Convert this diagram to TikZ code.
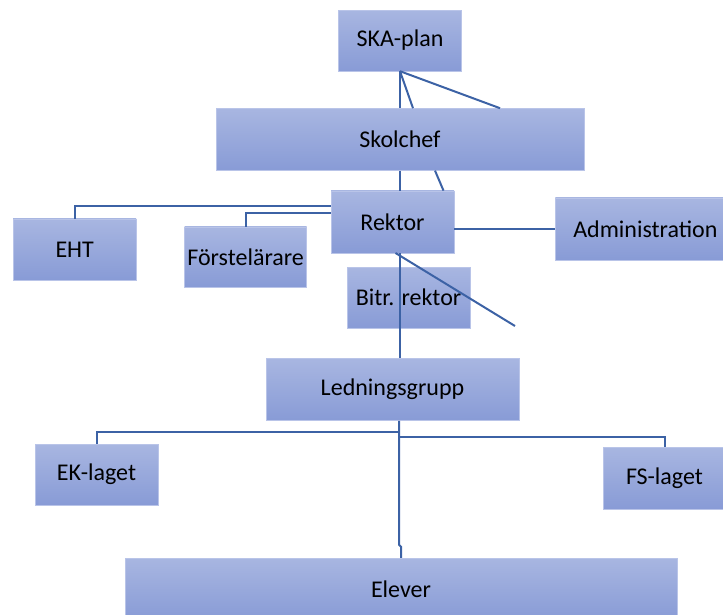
\documentclass[tikz,border=0pt]{standalone}
\usepackage{fontspec}
\setmainfont{Carlito}
\usetikzlibrary{positioning, calc}
\definecolor{boxtop}{RGB}{168,182,225}
\definecolor{boxbottom}{RGB}{136,155,214}
\definecolor{boxedge}{RGB}{185,196,232}
\definecolor{linkblue}{RGB}{60,98,165}

\begin{document}
\begin{tikzpicture}[x=1pt, y=-1pt, node distance=20pt]
  % Styles
  \tikzset{orgbox/.style={rectangle, top color=boxtop, bottom color=boxbottom, draw=boxedge, thin,
      text=black, inner sep=0pt, minimum width=123pt, minimum height=61pt,
      font=\fontsize{24}{28}\selectfont}}
  \tikzset{link/.style={draw=linkblue, line width=2pt}}
  \tikzset{mainlink/.style={draw=linkblue, line width=2.6pt}}

  \useasboundingbox (0,0) rectangle (723,614);

  % --- Nodes ---
  \node[orgbox] (skaplan) at (400,40.5) {SKA-plan};
  \node[orgbox, minimum width=368pt, minimum height=62pt] (skolchef) [below=37pt of skaplan] {Skolchef};
  \node[orgbox, minimum height=62pt] (rektor) [below=20pt of skolchef, xshift=-7.5pt] {Rektor};
  \node[orgbox, minimum width=180pt, minimum height=62pt] (admin) [right=101pt of rektor, yshift=-7pt] {Administration};
  \node[orgbox] (bitr) [below=14pt of rektor, xshift=16pt] {Bitr. rektor};
  \node[orgbox, minimum width=122pt, minimum height=60pt] (forst) [left=24pt of rektor, yshift=-35pt] {Förstelärare};
  \node[orgbox] (eht) [left=48pt of forst, yshift=7.5pt] {EHT};
  \node[orgbox, minimum width=253pt, minimum height=62pt] (ledn) [below=30pt of bitr, xshift=-16pt] {Ledningsgrupp};
  \node[orgbox] (eklaget) at (96.5,474.5) {EK-laget};
  \node[orgbox, minimum height=62pt] (fslaget) at (664.5,478) {FS-laget};
  \node[orgbox, minimum width=552pt, minimum height=62pt] (elever) at (401,589) {Elever};

  \coordinate (bitrend) at (515,326);

  % --- Links ---

  % 1. SKA-plan and Skolchef
  \draw[mainlink] (skaplan.south) -- (skaplan.south |- skolchef.north);
  \draw[link] (skaplan.south) -- ($(skolchef.north)+(13,0)$);
  \draw[link] (skaplan.south) -- ($(skolchef.north)+(100,0)$);
  \draw[mainlink] (skolchef.south) -- (skolchef.south |- rektor.north);
  \draw[link] ($(skolchef.south)+(35,0)$) -- ($(rektor.north)+(51,0)$);

  % 2. Rektor and staff
  \draw[link] ($(rektor.west)+(0,-16)$) -| (eht.north);
  \draw[link] ($(rektor.west)+(0,-9)$) -| (forst.north);
  \draw[link] (rektor.east |- admin.west) -- (admin.west);
  \draw[mainlink] (rektor.south -| skolchef.south) -- (ledn.north -| skolchef.south);
  \draw[link] ($(rektor.south)+(3,0)$) -- (bitrend);

  % 3. Ledningsgrupp and teams
  \draw[link] ($(ledn.south)+(6.5,11)$) -| (eklaget.north);
  \draw[link] ($(ledn.south)+(6.5,16)$) -| (fslaget.north);
  \draw[link] ($(ledn.south)+(6.5,0)$) -- ($(ledn.south)+(6.5,124)$)
    -- ($(elever.north)+(0,-11)$) -- (elever.north);

\end{tikzpicture}
\end{document}
